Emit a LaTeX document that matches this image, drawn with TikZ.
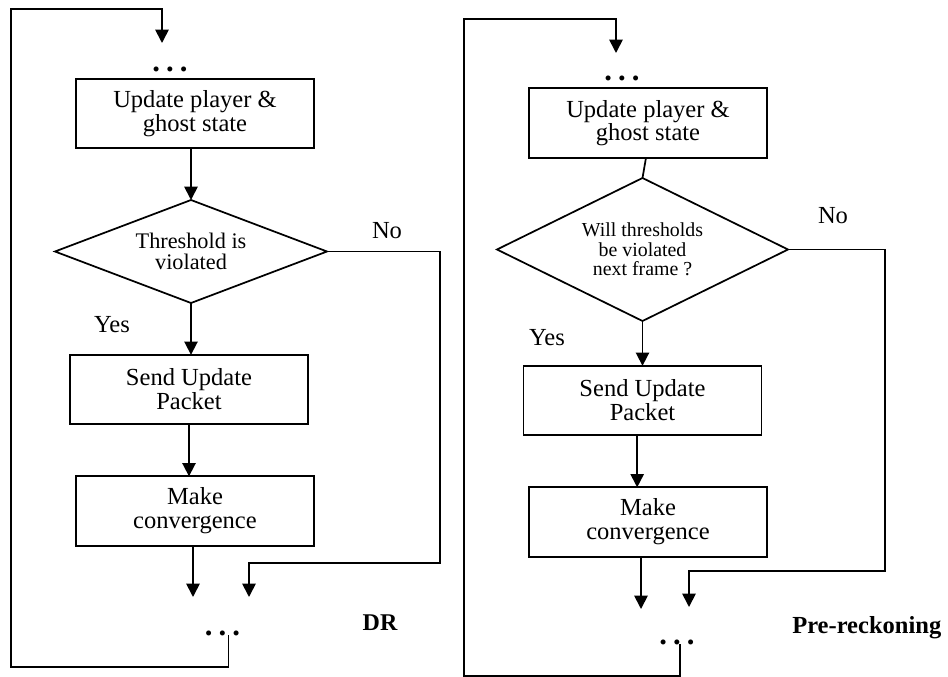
\documentclass[tikz,border=0pt]{standalone}
\usepackage{fontspec}
\setmainfont{Liberation Serif}
\usetikzlibrary{positioning}
\usetikzlibrary{shapes}
\usetikzlibrary{arrows.meta}

\begin{document}
\begin{tikzpicture}[
    x=0.75pt, y=-0.75pt,
    procbox/.style={draw, line width=1.4pt, minimum width=178.5pt, minimum height=52pt, inner sep=0pt, outer sep=0pt, align=center, font=\fontsize{18.4}{16.5}\selectfont},
    decision/.style={draw, diamond, line width=1.3pt, inner sep=0pt, outer sep=0pt, align=center},
    arr/.style={-{Triangle[length=10pt,width=10pt]}, line width=1.3pt},
    lnk/.style={line width=1.3pt},
    lbl/.style={inner sep=0pt, font=\fontsize{18.4}{20}\selectfont},
    cont/.style={inner sep=0pt, anchor=base, font=\bfseries\fontsize{23}{24}\selectfont}
    ]
\useasboundingbox (0,0) rectangle (948,677);
% DR
\node[cont] (ldtop) at (170,72) {.\kern0.2em.\kern0.2em.};
\node[procbox, font=\fontsize{18.4}{15.8}\selectfont] at (195,113.5) (lupd) {Update player \&\\ghost state};
\node[decision, aspect=2.64, minimum width=204pt, minimum height=77.25pt, font=\fontsize{16.7}{15.8}\selectfont] at (191,251.5) (lthr) {Threshold is\\violated};
\node[procbox, font=\fontsize{18.4}{18}\selectfont] at (189,389.5) (lsend) {Send Update\\Packet};
\node[procbox, font=\fontsize{18.4}{18}\selectfont] at (195,511) (lconv) {Make\\convergence};
\node[cont] (ldbot) at (222.5,635) {.\kern0.2em.\kern0.2em.};
\node[lbl] at (387,231) (lno) {No};
\node[lbl] at (112,325) (lyes) {Yes};
\node[lbl, font=\bfseries\fontsize{18}{20}\selectfont] at (380,623) (ldr) {DR};
\coordinate (lin) at (162,43);
\coordinate (lnoc) at (440,563);
\coordinate (lnoend) at (249,597);
\coordinate (lconvend) at (193,597);
\draw[arr] ([xshift=4.5pt]ldbot.base) |- (11,667) -- (11,9) -| (lin);
\draw[arr] (lupd.south -| lthr.north) -- (lthr.north);
\draw[arr] (lthr.south) -- (lthr.south |- lsend.north);
\draw[arr] (lsend.south) -- (lsend.south |- lconv.north);
\draw[arr] (lconv.south -| lconvend) -- (lconvend);
\draw[arr] (lthr.east) -| (lnoc) -| (lnoend);
% Pre-reckoning
\node[cont] (rdtop) at (622,81) {.\kern0.2em.\kern0.2em.};
\node[procbox, font=\fontsize{18.4}{15.8}\selectfont] at (648,123) (rupd) {Update player \&\\ghost state};
\node[decision, aspect=2.03, minimum width=218.25pt, minimum height=107.25pt, font=\fontsize{14.9}{14.6}\selectfont] at (642.5,249.5) (rthr) {Will thresholds\\be violated\\next frame ?};
\node[procbox, font=\fontsize{18.4}{18}\selectfont] at (642.5,400.5) (rsend) {Send Update\\Packet};
\node[procbox, font=\fontsize{18.4}{18}\selectfont] at (648,522) (rconv) {Make\\convergence};
\node[cont] (rdbot) at (677,644) {.\kern0.2em.\kern0.2em.};
\node[lbl] at (833,216) (rno) {No};
\node[lbl] at (547,338) (ryes) {Yes};
\node[lbl, anchor=west, font=\bfseries\fontsize{18.4}{20}\selectfont] at (792,628) (rpre) {Pre-reckoning};
\coordinate (rin) at (616,53);
\coordinate (rnoc) at (885,571);
\coordinate (rnoend) at (689,607);
\coordinate (rconvend) at (641,609);
\draw[arr] ([xshift=2.25pt]rdbot.base) |- (464,676) -- (464,19) -| (rin);
\draw[lnk] (rupd.south -| 646,0) -- (rthr.north);
\draw[arr] (rthr.south) -- (rthr.south |- rsend.north);
\draw[arr] ([xshift=-4pt]rsend.south) -- ([xshift=-4pt]rsend.south |- rconv.north);
\draw[arr] (rconv.south -| rconvend) -- (rconvend);
\draw[arr] (rthr.east) -| (rnoc) -| (rnoend);
\end{tikzpicture}
\end{document}
